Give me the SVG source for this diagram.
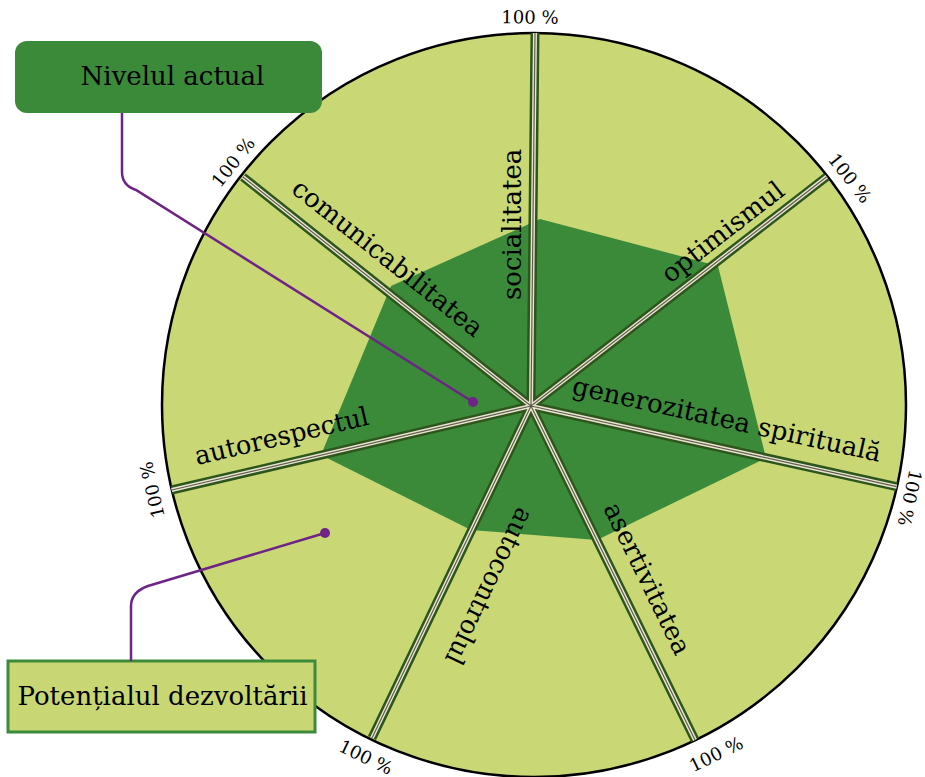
<svg xmlns="http://www.w3.org/2000/svg" width="925" height="777" viewBox="0 0 925 777">
<style>
.lbl{font-family:"DejaVu Serif","Liberation Serif",serif;font-size:26px;fill:#000}
.box{font-family:"DejaVu Serif","Liberation Serif",serif;font-size:26px;fill:#000;text-anchor:middle}
.pct{font-family:"DejaVu Serif","Liberation Serif",serif;font-size:18px;fill:#000;text-anchor:middle;dominant-baseline:central}
.lead{fill:none;stroke:#6e2486;stroke-width:2.5}
.dot{fill:#6e2486}
</style>
<defs>
<path id="spk" d="M531,406 L535,33 M531,406 L826.7,176.7 M531,406 L896.7,486.7 M531,406 L695,740 M531,406 L372,738 M531,406 L171.7,490 M531,406 L243,177"/>
</defs>
<rect width="925" height="777" fill="#fff"/>
<g id="chart">
<circle cx="534" cy="405" r="372" fill="#c9d775" stroke="#000" stroke-width="2.5"/>
<polygon points="540,219 718,266 766,458 597,540 471,530 321,455 391,286" fill="#3b8a3a"/>
</g>
<g id="spokes" fill="none">
<use href="#spk" stroke="#2d561d" stroke-width="9"/>
<use href="#spk" stroke="#ebe5cf" stroke-width="4"/>
<use href="#spk" stroke="#5e5e50" stroke-width="1.2"/>
</g>
<g id="labels">
<text id="lbl-socialitatea" class="lbl" transform="translate(521,300) rotate(-90)">socialitatea</text>
<text id="lbl-optimismul" class="lbl" transform="translate(670,284) rotate(-37.8)">optimismul</text>
<text id="lbl-generozitatea" class="lbl" transform="translate(571,394) rotate(12.4)">generozitatea spirituală</text>
<text id="lbl-asertivitatea" class="lbl" transform="translate(603,508) rotate(63.9)">asertivitatea</text>
<text id="lbl-autocontrolul" class="lbl" transform="translate(518,506) rotate(115.6)" textLength="170" lengthAdjust="spacingAndGlyphs">autocontrolul</text>
<text id="lbl-autorespectul" class="lbl" transform="translate(197,465) rotate(-13.2)" textLength="178" lengthAdjust="spacingAndGlyphs">autorespectul</text>
<text id="lbl-comunicabilitatea" class="lbl" transform="translate(290,191.5) rotate(38.5)">comunicabilitatea</text>
</g>
<g id="percent-labels">
<text class="pct" transform="translate(530,17) rotate(0.6)">100 %</text>
<text class="pct" transform="translate(850,178) rotate(52.2)">100 %</text>
<text class="pct" transform="translate(910,498) rotate(102.4)">100 %</text>
<text class="pct" transform="translate(716,754) rotate(-26.1)">100 %</text>
<text class="pct" transform="translate(366,757) rotate(25.6)">100 %</text>
<text class="pct" transform="translate(152,490) rotate(-103.2)">100 %</text>
<text class="pct" transform="translate(233,162) rotate(-51.5)">100 %</text>
</g>
<g id="nivelul-actual">
<rect x="15" y="41" width="307" height="72" rx="12" fill="#3b8a3a"/>
<text class="box" x="172.5" y="85">Nivelul actual</text>
</g>
<g id="potentialul-dezvoltarii">
<rect x="8" y="661" width="307" height="71" fill="#c8d774" stroke="#3d8b3a" stroke-width="3"/>
<text class="box" x="162.5" y="705">Potențialul dezvoltării</text>
</g>
<g id="connectors">
<path class="lead" d="M122,113 V172 C122,182 127,187 136,190 L473,402"/>
<circle class="dot" cx="473" cy="402" r="5"/>
<path class="lead" d="M325,533 L148,586 C137,590 131,596 131,606 V661"/>
<circle class="dot" cx="325" cy="533" r="5"/>
</g>
</svg>
